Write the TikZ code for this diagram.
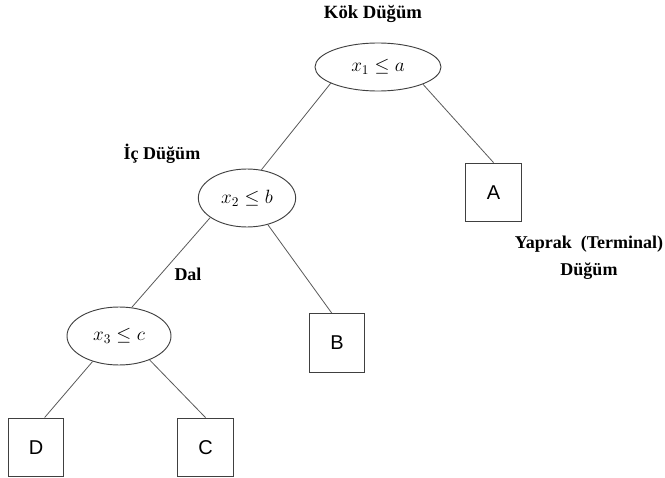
\documentclass[tikz,border=0pt]{standalone}
\usepackage{amsmath}
\usepackage{fontspec}
\setmainfont{Liberation Serif}
\newfontfamily\leaffont{Liberation Sans}
\usepackage{tikz}
\usetikzlibrary{shapes.geometric}

\begin{document}
\begin{tikzpicture}[x=0.75pt,y=-0.75pt,
  split/.style={draw=black!75, line width=0.7pt, ellipse, inner sep=0pt, font=\fontsize{14.5}{16}\selectfont},
  leaf/.style={draw=black!75, line width=0.9pt, minimum width=41.5pt, minimum height=44pt, font=\leaffont\fontsize{15}{18}\selectfont},
  lbl/.style={font=\bfseries\fontsize{13.5}{20}\selectfont, align=center},
  branch/.style={draw=black!65, line width=0.6pt}]
\useasboundingbox (0,0) rectangle (665,478);

% nodes
\node[split, minimum width=94.5pt, minimum height=36pt] (root) at (378,67) {$x_1 \leq a$};
\node[split, minimum width=73pt, minimum height=43.5pt] (x2) at (247,198) {$x_2 \leq b$};
\node[split, minimum width=78pt, minimum height=43.5pt] (x3) at (119,336) {$x_3 \leq c$};
\node[leaf] (A) at (493.5,192.5) {A};
\node[leaf] (B) at (337,343) {B};
\node[leaf] (C) at (205.5,447.5) {C};
\node[leaf] (D) at (36,447.5) {D};

% labels
\node[lbl, font=\bfseries\fontsize{14}{20}\selectfont] (kok) at (373,14) {Kök Düğüm};
\node[lbl] (ic) at (162,154) {İç Düğüm};
\node[lbl] (dal) at (188,274) {Dal};
\node[lbl] (yaprak) at (589,258) {Yaprak\ \ (Terminal)\\Düğüm};

% branches
\draw[branch] (root.199) -- (x2.63);
\draw[branch] (root.339) -- (A.north);
\draw[branch] (x2.208) -- (x3.66);
\draw[branch] (x2.308) -- (B.100);
\draw[branch] (x3.224) -- (D.74);
\draw[branch] (x3.322) -- (C.north);

\end{tikzpicture}
\end{document}
